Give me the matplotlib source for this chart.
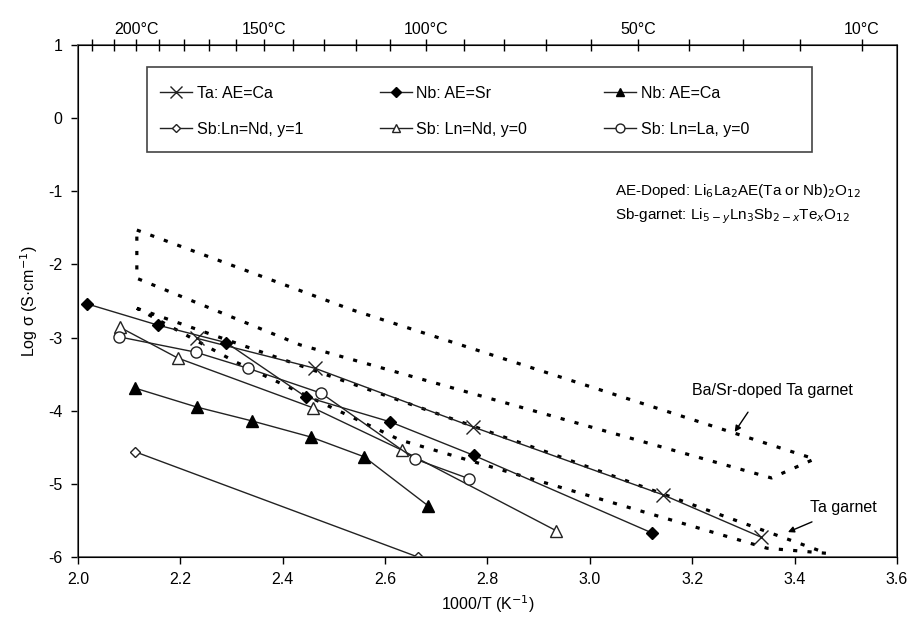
import numpy as np
import matplotlib
matplotlib.use('Agg')
import matplotlib.pyplot as plt
from matplotlib.patches import Rectangle

# measured series (x = 1000/T, y = log sigma)
ta_ca_x = [2.232, 2.463, 2.771, 3.143, 3.335]
ta_ca_y = [-3.01, -3.42, -4.22, -5.15, -5.73]

nb_sr_x = [2.018, 2.156, 2.290, 2.445, 2.609, 2.773, 3.121]
nb_sr_y = [-2.54, -2.83, -3.07, -3.81, -4.15, -4.61, -5.67]

nb_ca_x = [2.111, 2.232, 2.340, 2.455, 2.559, 2.684]
nb_ca_y = [-3.69, -3.95, -4.14, -4.36, -4.63, -5.30]

sb_nd1_x = [2.111, 2.664]
sb_nd1_y = [-4.56, -6.00]

sb_nd0_x = [2.082, 2.195, 2.459, 2.633, 2.934]
sb_nd0_y = [-2.86, -3.28, -3.96, -4.54, -5.64]

sb_la0_x = [2.080, 2.230, 2.332, 2.475, 2.658, 2.764]
sb_la0_y = [-2.99, -3.20, -3.42, -3.76, -4.66, -4.93]

# outline of literature regions
basr_x = [2.115, 2.535, 3.439, 3.355, 2.434, 2.115, 2.115]
basr_y = [-1.53, -2.62, -4.66, -4.92, -3.10, -2.19, -1.53]

tagar_x = [2.115, 2.922, 3.463, 3.346, 2.629, 2.307, 2.115]
tagar_y = [-2.60, -4.58, -5.95, -5.88, -4.40, -3.33, -2.60]

top_temps = list(range(220, 0, -10))
top_labels = [200, 150, 100, 50, 10]


def main():
    plt.rcParams['font.family'] = ['Liberation Sans', 'DejaVu Sans']
    plt.rcParams['font.size'] = 11.5
    plt.rcParams['axes.unicode_minus'] = False
    fig = plt.figure(figsize=(9.12, 6.3), dpi=100)
    ax = fig.add_axes([0.0855, 0.1159, 0.898, 0.8127])

    dots = (0, (1.3, 3.2))
    ax.plot(basr_x, basr_y, color='black', lw=2.3, ls=dots)
    ax.plot(tagar_x, tagar_y, color='black', lw=2.3, ls=dots)

    c = '#222222'
    h_ta, = ax.plot(ta_ca_x, ta_ca_y, color=c, lw=1, marker='x', ms=10, mew=1,
                    label='Ta: AE=Ca')
    h_nbsr, = ax.plot(nb_sr_x, nb_sr_y, color=c, lw=1, marker='D', ms=6.5,
                      mfc='black', mec='black', label='Nb: AE=Sr')
    h_nbca, = ax.plot(nb_ca_x, nb_ca_y, color=c, lw=1, marker='^', ms=8,
                      mfc='black', mec='black', label='Nb: AE=Ca')
    h_nd1, = ax.plot(sb_nd1_x, sb_nd1_y, color=c, lw=1, marker='D', ms=5.5,
                     mfc='white', mec=c, label='Sb:Ln=Nd, y=1')
    h_nd0, = ax.plot(sb_nd0_x, sb_nd0_y, color=c, lw=1, marker='^', ms=8,
                     mfc='white', mec=c, label='Sb: Ln=Nd, y=0')
    h_la0, = ax.plot(sb_la0_x, sb_la0_y, color=c, lw=1, marker='o', ms=8,
                     mfc='white', mec=c, label='Sb: Ln=La, y=0')

    ax.set_xlim(2.0, 3.6)
    ax.set_ylim(-6, 1)
    ax.set_xticks(np.arange(2.0, 3.61, 0.2))
    ax.set_xticklabels(['%.1f' % v for v in np.arange(2.0, 3.61, 0.2)])
    ax.set_yticks(range(-6, 2))
    ax.tick_params(direction='out', length=5, width=1, pad=6)
    ax.set_xlabel('1000/T (K$^{-1}$)', labelpad=4)
    ax.set_ylabel('Log σ (S·cm$^{-1}$)', labelpad=6)
    for s in ax.spines.values():
        s.set_color('#555555')
        s.set_linewidth(1.2)

    top = ax.twiny()
    top.set_xlim(ax.get_xlim())
    top.set_xticks([1000 / (t + 273.15) for t in top_temps])
    top.set_xticklabels([('%d°C' % t) if t in top_labels else '' for t in top_temps])
    top.tick_params(direction='inout', length=8, width=1, pad=2)

    # legend box drawn by hand, entries without frame
    ax.add_patch(Rectangle((0.0842, 0.791), 0.812, 0.166, transform=ax.transAxes,
                           fill=False, edgecolor='#444444', lw=1.2, zorder=5))
    handles = [h_ta, h_nd1, h_nbsr, h_nd0, h_nbca, h_la0]
    ax.legend(handles, [h.get_label() for h in handles],
              ncol=3, loc='upper left', bbox_to_anchor=(0.1, 0.92),
              frameon=False, borderpad=0, borderaxespad=0,
              handlelength=2.0, handletextpad=0.3, labelspacing=1.3,
              columnspacing=4.8, markerscale=0.8, fontsize=11.5)

    ax.text(3.05, -1.05, 'AE-Doped: Li$_6$La$_2$AE(Ta or Nb)$_2$O$_{12}$', fontsize=11)
    ax.text(3.05, -1.38, 'Sb-garnet: Li$_{5-y}$Ln$_3$Sb$_{2-x}$Te$_x$O$_{12}$', fontsize=11)

    ax.text(3.20, -3.72, 'Ba/Sr-doped Ta garnet', fontsize=11.5, ha='left', va='center')
    ax.annotate('', xy=(3.283, -4.29), xytext=(3.309, -4.02),
                arrowprops=dict(arrowstyle='-|>', color='black', lw=1,
                                shrinkA=0, shrinkB=0, mutation_scale=9))
    ax.text(3.43, -5.32, 'Ta garnet', fontsize=11.5, ha='left', va='center')
    ax.annotate('', xy=(3.387, -5.66), xytext=(3.434, -5.52),
                arrowprops=dict(arrowstyle='-|>', color='black', lw=1,
                                shrinkA=0, shrinkB=0, mutation_scale=9))

    plt.savefig('out.png', dpi=100)
    plt.close()


if __name__ == "__main__":
    main()
